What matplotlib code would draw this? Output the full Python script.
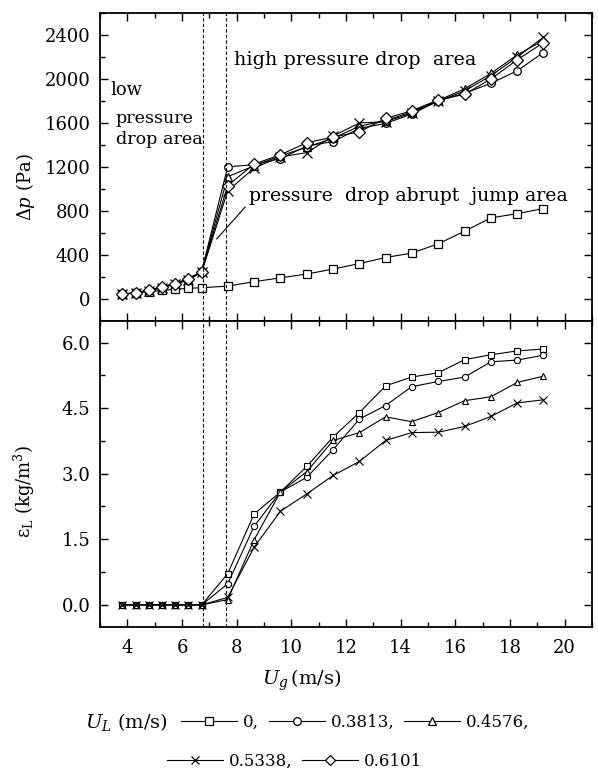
import matplotlib
matplotlib.use("Agg")
import matplotlib.pyplot as plt
from matplotlib.lines import Line2D
from matplotlib.ticker import MultipleLocator, FormatStrFormatter

plt.rcParams['font.family'] = ['DejaVu Serif']
plt.rcParams['mathtext.fontset'] = 'dejavuserif'

# ---------------- data ----------------
ug = [3.82, 4.30, 4.78, 5.26, 5.74, 6.23, 6.72, 7.67, 8.64, 9.60,
      10.57, 11.53, 12.49, 13.45, 14.40, 15.38, 16.34, 17.30, 18.27, 19.22]

ul_labels = ['0,', '0.3813,', '0.4576,', '0.5338,', '0.6101']
markers = ['s', 'o', '^', 'x', 'D']

dp_0 = [40, 55, 65, 75, 85, 95, 100, 115, 155, 190,
        225, 270, 320, 375, 415, 500, 615, 735, 775, 820]
dp_3813 = [40, 55, 75, 105, 135, 175, 250, 1200, 1220, 1275,
           1390, 1430, 1550, 1595, 1680, 1800, 1870, 1960, 2075, 2240]
dp_4576 = [40, 55, 75, 105, 140, 180, 250, 1110, 1210, 1300,
           1380, 1460, 1570, 1620, 1700, 1805, 1910, 2050, 2220, 2350]
dp_5338 = [40, 55, 70, 100, 130, 170, 240, 980, 1190, 1290,
           1330, 1480, 1600, 1610, 1690, 1800, 1890, 2030, 2200, 2380]
dp_6101 = [40, 55, 77, 107, 137, 178, 247, 1030, 1225, 1310,
           1420, 1470, 1520, 1640, 1710, 1810, 1860, 2000, 2175, 2330]

eps_0 = [0, 0, 0, 0, 0, 0, 0, 0.71, 2.08, 2.58,
         3.17, 3.84, 4.40, 5.01, 5.21, 5.31, 5.61, 5.72, 5.81, 5.85]
eps_3813 = [0, 0, 0, 0, 0, 0, 0, 0.48, 1.80, 2.58,
            2.92, 3.55, 4.25, 4.56, 4.99, 5.11, 5.21, 5.56, 5.60, 5.71]
eps_4576 = [0, 0, 0, 0, 0, 0, 0, 0.12, 1.49, 2.58,
            3.05, 3.76, 3.94, 4.30, 4.19, 4.40, 4.67, 4.76, 5.09, 5.23]
eps_5338 = [0, 0, 0, 0, 0, 0, 0, 0.17, 1.32, 2.14,
            2.54, 2.96, 3.28, 3.76, 3.94, 3.95, 4.08, 4.31, 4.62, 4.69]

dp_series = [dp_0, dp_3813, dp_4576, dp_5338, dp_6101]
eps_series = [eps_0, eps_3813, eps_4576, eps_5338]

boundaries = [6.78, 7.61]

# ---------------- figure ----------------
W, H = 598, 772
fig = plt.figure(figsize=(W / 100, H / 100), dpi=100)
L, R = 100 / W, 592 / W
ax1 = fig.add_axes([L, 1 - 320.7 / H, R - L, (320.7 - 13) / H])
ax2 = fig.add_axes([L, 1 - 626.7 / H, R - L, (626.7 - 320.7) / H], sharex=ax1)

FS = 13
lw = 0.8

def style(ax):
    for s in ax.spines.values():
        s.set_linewidth(1.3)
    ax.tick_params(which='both', direction='in', top=True, right=True,
                   labelsize=FS, width=1.0)
    ax.tick_params(which='major', length=6)
    ax.tick_params(which='minor', length=3.5)
    ax.tick_params(axis='y', pad=7)
    ax.tick_params(axis='x', pad=9)
    ax.xaxis.set_major_locator(MultipleLocator(2))
    ax.xaxis.set_minor_locator(MultipleLocator(1))

# top panel
for vals, m in zip(dp_series, markers):
    ms = 6.5 if m == 'D' else (7 if m == 'x' else 5.5)
    ax1.plot(ug, vals, color='black', lw=lw, marker=m, ms=ms,
             mfc='white', mec='black', mew=0.9)
for b in boundaries:
    ax1.axvline(b, color='black', lw=0.8, ls=(0, (3, 2)))
ax1.set_xlim(3, 21)
ax1.set_ylim(-200, 2600)
ax1.yaxis.set_major_locator(MultipleLocator(400))
ax1.yaxis.set_minor_locator(MultipleLocator(200))
style(ax1)
ax1.tick_params(labelbottom=False)
ax1.set_ylabel(r'$\mathit{\Delta p}$ (Pa)', fontsize=FS)
ax1.yaxis.set_label_coords(-0.128, 0.435)

ax1.text(7.9, 2131, 'high pressure drop  area', fontsize=13.8, va='baseline')
ax1.text(3.39, 1857, 'low', fontsize=FS, va='baseline')
ax1.text(3.58, 1603, 'pressure', fontsize=12.6, va='baseline')
ax1.text(3.58, 1408, 'drop area', fontsize=12.6, va='baseline')
ax1.text(8.45, 892, 'pressure  drop abrupt  jump area', fontsize=13.6, va='baseline')
ax1.plot([7.27, 8.31], [544, 834], color='black', lw=0.8)

# bottom panel
for vals, m in zip(eps_series, markers[:4]):
    ms = 5.5 if m == 'x' else 4.5
    ax2.plot(ug, vals, color='black', lw=lw, marker=m, ms=ms,
             mfc='white', mec='black', mew=0.8)
for b in boundaries:
    ax2.axvline(b, color='black', lw=0.8, ls=(0, (3, 2)))
ax2.set_ylim(-0.5, 6.5)
ax2.yaxis.set_major_locator(MultipleLocator(1.5))
ax2.yaxis.set_minor_locator(MultipleLocator(0.75))
ax2.yaxis.set_major_formatter(FormatStrFormatter('%.1f'))
style(ax2)
ax2.set_ylabel(r'$\mathrm{\varepsilon_L}$ $\mathrm{(kg/m^3)}$', fontsize=FS)
ax2.yaxis.set_label_coords(-0.128, 0.443)
ax2.set_xlabel(r'$U_g\,$(m/s)', fontsize=FS + 1)
ax2.xaxis.set_label_coords(0.41, -0.135)

# legend
LFS = 12
handles = [Line2D([], [], color='black', lw=lw, marker=m,
                  ms=(6 if m == 'x' else 5.5), mfc='white', mec='black', mew=0.9)
           for m in markers]
fig.text(85 / W, 1 - 722 / H, r'$U_L$ (m/s)', fontsize=FS + 1, va='center', ha='left')
kw = dict(frameon=False, fontsize=LFS, handlelength=3.35, handletextpad=0.36,
          columnspacing=0.6, borderpad=0, borderaxespad=0, loc='center left')
fig.legend(handles[:3], ul_labels[:3], ncol=3,
           bbox_to_anchor=(181 / W, 1 - 722 / H), **kw)
fig.legend(handles[3:], ul_labels[3:], ncol=2,
           bbox_to_anchor=(167 / W, 1 - 761.7 / H), **kw)

fig.savefig('out.png', dpi=100)
